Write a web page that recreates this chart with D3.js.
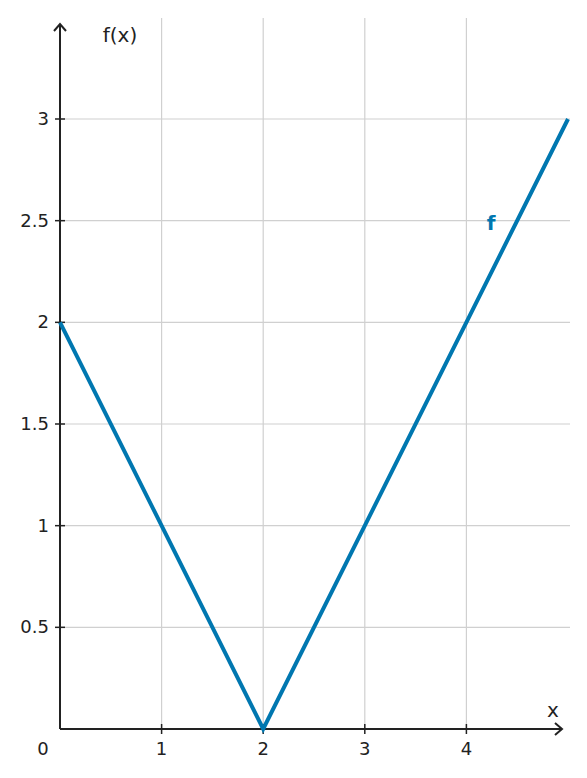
<!DOCTYPE html>
<html><head><meta charset="utf-8">
<script src="https://cdn.jsdelivr.net/npm/d3@7"></script>
<style>body{margin:0;background:#fff}text{font-family:"DejaVu Sans",sans-serif}</style>
</head><body><div id="canvas"></div>
<script>
const xs = [0, 2, 5];
const ys = [2, 0, 3];
const xTicks = [1, 2, 3, 4];
const yTicks = [0.5, 1, 1.5, 2, 2.5, 3];

const W = 587, H = 778;
const x = d3.scaleLinear().domain([0, 5]).range([60, 568]);
const y = d3.scaleLinear().domain([0, 3]).range([729, 119]);

const svg = d3.select("#canvas").append("svg").attr("width", W).attr("height", H);

// grid
svg.append("g").selectAll("line").data(xTicks).join("line")
  .attr("x1", d => x(d)).attr("x2", d => x(d)).attr("y1", 18).attr("y2", 729)
  .attr("stroke", "#d0d0d0").attr("stroke-width", 1.2);
svg.append("g").selectAll("line").data(yTicks).join("line")
  .attr("x1", 60).attr("x2", 570).attr("y1", d => y(d)).attr("y2", d => y(d))
  .attr("stroke", "#d0d0d0").attr("stroke-width", 1.2);

// axes
const ax = "#222";
svg.append("line").attr("x1", 60).attr("x2", 562).attr("y1", 729).attr("y2", 729).attr("stroke", ax).attr("stroke-width", 2);
svg.append("line").attr("x1", 60).attr("x2", 60).attr("y1", 729).attr("y2", 24).attr("stroke", ax).attr("stroke-width", 2);
svg.append("path").attr("d", "M555,723 L562,729 L555,735").attr("fill", "none").attr("stroke", ax).attr("stroke-width", 2);
svg.append("path").attr("d", "M54,31 L60,24 L66,31").attr("fill", "none").attr("stroke", ax).attr("stroke-width", 2);

// ticks
svg.append("g").selectAll("line").data(xTicks).join("line")
  .attr("x1", d => x(d)).attr("x2", d => x(d)).attr("y1", 724).attr("y2", 734).attr("stroke", ax).attr("stroke-width", 1.5);
svg.append("g").selectAll("line").data(yTicks).join("line")
  .attr("x1", 55).attr("x2", 65).attr("y1", d => y(d)).attr("y2", d => y(d)).attr("stroke", ax).attr("stroke-width", 1.5);

svg.append("g").selectAll("text").data(xTicks).join("text")
  .attr("x", d => x(d)).attr("y", 755).attr("text-anchor", "middle")
  .attr("font-size", 18).attr("fill", ax).text(d => d);
svg.append("g").selectAll("text").data(yTicks).join("text")
  .attr("x", 49).attr("y", d => y(d) + 6).attr("text-anchor", "end")
  .attr("font-size", 18).attr("fill", ax).text(d => d);
svg.append("text").attr("x", 43).attr("y", 755).attr("text-anchor", "middle").attr("font-size", 18).attr("fill", ax).text("0");
svg.append("text").attr("x", 553).attr("y", 717).attr("text-anchor", "middle").attr("font-size", 20).attr("fill", ax).text("x");
svg.append("text").attr("x", 120).attr("y", 42).attr("text-anchor", "middle").attr("font-size", 20).attr("fill", ax).text("f(x)");

// function
const pts = xs.map((d, i) => [d, ys[i]]);
svg.append("path").datum(pts)
  .attr("d", d3.line().x(d => x(d[0])).y(d => y(d[1])))
  .attr("fill", "none").attr("stroke", "#0077b0").attr("stroke-width", 4);
svg.append("text").attr("x", 491).attr("y", 230).attr("text-anchor", "middle")
  .attr("font-size", 20).attr("font-weight", "bold").attr("fill", "#0077b0").text("f");
</script></body></html>
